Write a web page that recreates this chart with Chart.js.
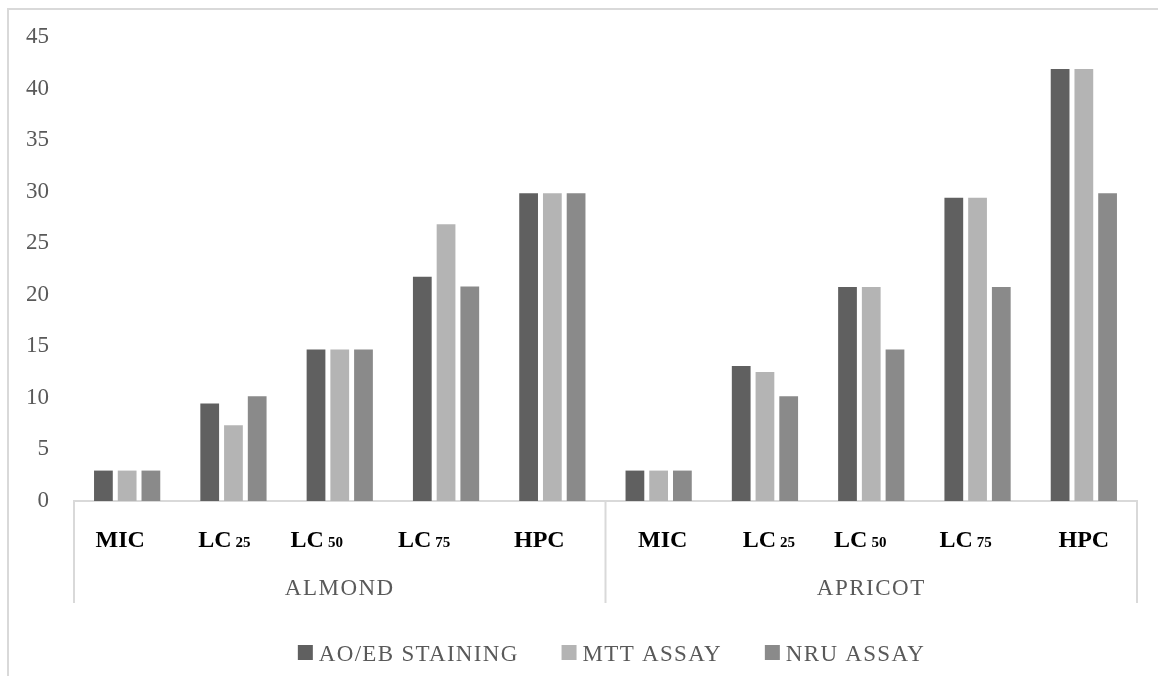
<!DOCTYPE html>
<html>
<head>
<meta charset="utf-8">
<script src="https://cdn.jsdelivr.net/npm/chart.js@4.4.1/dist/chart.umd.min.js"></script>
<style>
  html, body { margin: 0; padding: 0; background: #fff; overflow: hidden; }
  #frame { position: absolute; left: 7px; top: 8px; width: 1205px; height: 700px; border: 2px solid #d9d9d9; }
  canvas { display: block; }
</style>
</head>
<body>
<div id="frame"><canvas id="chart" width="1205" height="666"></canvas></div>
<script>
const groups = ['ALMOND', 'APRICOT'];
const catMain = ['MIC', 'LC', 'LC', 'LC', 'HPC'];
const catSub = ['', '25', '50', '75', ''];
const seriesNames = ['AO/EB STAINING', 'MTT ASSAY', 'NRU ASSAY'];
const seriesColors = ['#606060', '#b4b4b4', '#8a8a8a'];

const aoeb = [2.95, 9.45, 14.7, 21.75, 29.85, 2.95, 13.1, 20.75, 29.4, 41.9];
const mtt  = [2.95, 7.35, 14.7, 26.85, 29.85, 2.95, 12.5, 20.75, 29.4, 41.9];
const nru  = [2.95, 10.15, 14.7, 20.8, 29.85, 2.95, 10.15, 14.7, 20.75, 29.85];

const yTicks = [0, 5, 10, 15, 20, 25, 30, 35, 40, 45];

const labels = groups.flatMap(() => catMain.map((m, i) => catSub[i] ? m + ' ' + catSub[i] : m));

// small horizontal nudges so the category labels sit where the original puts them
const labelShift = [-7, -9, -23, -22, -13, 4, 4, -11, -12, 0];

const serif = '"Liberation Serif", "DejaVu Serif", serif';

// draws the two-level category axis and the legend
const axisLabels = {
  id: 'axisLabels',
  afterDraw(chart) {
    const { ctx, chartArea } = chart;
    const x = chart.scales.x;
    const bottom = chartArea.bottom;
    const n = catMain.length;
    const half = (x.getPixelForValue(1) - x.getPixelForValue(0)) / 2;
    ctx.save();

    // group separators
    ctx.strokeStyle = '#d9d9d9';
    ctx.lineWidth = 2;
    for (let g = 0; g <= groups.length; g++) {
      const px = g < groups.length ? x.getPixelForValue(g * n) - half : x.getPixelForValue(g * n - 1) + half;
      ctx.beginPath();
      ctx.moveTo(px, bottom);
      ctx.lineTo(px, bottom + 102);
      ctx.stroke();
    }

    // category labels with small subscripts
    ctx.textBaseline = 'alphabetic';
    ctx.textAlign = 'left';
    ctx.fillStyle = '#000';
    labels.forEach((lab, i) => {
      const k = i % n;
      ctx.font = 'bold 24px ' + serif;
      const wm = ctx.measureText(catMain[k]).width;
      ctx.font = 'bold 15px ' + serif;
      const ws = catSub[k] ? ctx.measureText(catSub[k]).width + 4 : 0;
      const left = x.getPixelForValue(i) + labelShift[i] - (wm + ws) / 2;
      ctx.font = 'bold 24px ' + serif;
      ctx.fillText(catMain[k], left, bottom + 46);
      if (catSub[k]) {
        ctx.font = 'bold 15px ' + serif;
        ctx.fillText(catSub[k], left + wm + 4, bottom + 46);
      }
    });

    // group labels
    ctx.font = '23px ' + serif;
    ctx.letterSpacing = '1.5px';
    ctx.fillStyle = '#595959';
    ctx.textAlign = 'center';
    groups.forEach((g, j) => {
      const c = (x.getPixelForValue(j * n) + x.getPixelForValue(j * n + n - 1)) / 2;
      ctx.fillText(g, c, bottom + 94);
    });

    // legend
    ctx.font = '23px ' + serif;
    ctx.letterSpacing = '1.3px';
    ctx.textAlign = 'left';
    const box = 15, boxGap = 6, itemGap = 43;
    const widths = seriesNames.map(s => box + boxGap + ctx.measureText(s).width);
    const total = widths.reduce((a, b) => a + b, 0) + itemGap * (widths.length - 1);
    let lx = chart.width / 2 - total / 2;
    seriesNames.forEach((s, i) => {
      ctx.fillStyle = seriesColors[i];
      ctx.fillRect(lx, bottom + 144, box, box);
      ctx.fillStyle = '#595959';
      ctx.fillText(s, lx + box + boxGap, bottom + 160);
      lx += widths[i] + itemGap;
    });

    ctx.restore();
  }
};

new Chart(document.getElementById('chart'), {
  type: 'bar',
  data: {
    labels: labels,
    datasets: [
      { label: seriesNames[0], data: aoeb, backgroundColor: seriesColors[0] },
      { label: seriesNames[1], data: mtt, backgroundColor: seriesColors[1] },
      { label: seriesNames[2], data: nru, backgroundColor: seriesColors[2] }
    ]
  },
  options: {
    responsive: false,
    animation: false,
    layout: { padding: { top: 27, right: 77, left: 0, bottom: 0 } },
    datasets: { bar: { categoryPercentage: 0.67, barPercentage: 0.79, borderWidth: 0 } },
    plugins: { legend: { display: false }, tooltip: { enabled: false } },
    scales: {
      x: {
        grid: { display: false },
        border: { display: true, color: '#d9d9d9', width: 2 },
        ticks: { display: false },
        afterFit: (scale) => { scale.height = 175; }
      },
      y: {
        min: 0,
        max: 45,
        grid: { display: false, drawTicks: false },
        border: { display: false },
        afterBuildTicks: (scale) => { scale.ticks = yTicks.map(v => ({ value: v })); },
        afterFit: (scale) => {
          scale.width = 65;
          scale.paddingTop = 0;
          scale.paddingBottom = 0;
        },
        ticks: { color: '#595959', padding: 25, font: { family: serif, size: 23 } }
      }
    }
  },
  plugins: [axisLabels]
});
</script>
</body>
</html>
